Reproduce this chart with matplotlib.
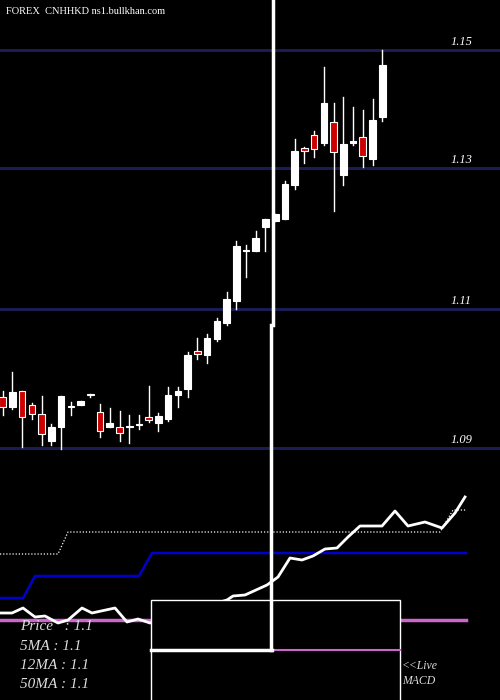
import matplotlib
matplotlib.use("Agg")
import matplotlib.pyplot as plt
from matplotlib.lines import Line2D
from matplotlib.patches import Rectangle

opens  = [1.0979,1.0965,1.0988,1.0967,1.0954,1.0914,1.0934,1.0966,1.0968,1.0984,1.0957,1.0934,1.0934,1.0934,1.0937,1.0950,1.0941,1.0947,1.0982,1.0991,
          1.1048,1.1043,1.1067,1.1091,1.1124,1.1198,1.1198,1.1235,1.1243,1.1247,1.1297,1.1353,1.1372,1.1360,1.1392,1.1312,1.1361,1.1369,1.1336,1.1399]
closes = [1.0964,1.0987,1.0950,1.0954,1.0924,1.0934,1.0981,1.0964,1.0974,1.0982,1.0928,1.0940,1.0925,1.0936,1.0939,1.0945,1.0951,1.0983,1.0989,1.1043,
          1.1044,1.1068,1.1094,1.1127,1.1206,1.1200,1.1218,1.1247,1.1254,1.1299,1.1349,1.1348,1.1351,1.1421,1.1347,1.1359,1.1364,1.1341,1.1395,1.1478]
highs  = [1.0988,1.1017,1.0988,1.0971,1.0981,1.0939,1.0981,1.0972,1.0974,1.0984,1.0969,1.0963,1.0959,1.0953,1.0953,1.0996,1.0955,1.0995,1.0995,1.1047,
          1.1068,1.1074,1.1098,1.1137,1.1213,1.1208,1.1229,1.1247,1.1254,1.1304,1.1367,1.1355,1.1379,1.1475,1.1421,1.1430,1.1415,1.1410,1.1427,1.1500]
lows   = [1.0952,1.0961,1.0905,1.0946,1.0907,1.0907,1.0902,1.0952,1.0968,1.0979,1.0920,1.0934,1.0914,1.0911,1.0931,1.0942,1.0929,1.0943,1.0964,1.0979,
          1.1036,1.1031,1.1063,1.1087,1.1111,1.1160,1.1198,1.1199,1.1243,1.1247,1.1292,1.1331,1.1339,1.1358,1.1258,1.1297,1.1357,1.1324,1.1328,1.1393]
price_levels = [1.1500, 1.1323, 1.1111, 1.0903]
level_labels = ["1.15", "1.13", "1.11", "1.09"]

# indicator panel (pixel-like units)
dotted_x = [0, 58, 68, 440, 453, 466]
dotted_y = [554, 554, 532, 532, 510, 510]
blue_x = [0, 23, 35, 139, 152, 466]
blue_y = [598, 598, 576, 576, 553, 553]
macd_x = [0,12,23,35,45,58,68,82,92,115,127,138,150,227,233,245,267,278,290,302,313,325,337,348,360,382,395,408,425,442,455,465]
macd_y = [613,613,608,617,616,623,620,608,613,608,622,619,623,600,596,595,585,577,558,560,556,549,548,537,526,526,511,526,522,528,513,497]
info_texts = ["Price   : 1.1", "5MA : 1.1", "12MA : 1.1", "50MA : 1.1"]

fig = plt.figure(figsize=(5, 7), dpi=100, facecolor="black")
ax = fig.add_axes([0, 240/700, 1, 460/700])
ax.set_facecolor("black")
ax.set_xlim(-0.28, 51.1)
ax.set_ylim(1.15 - 410/6667, 1.15 + 50/6667)
ax.axis("off")
for lv, lb in zip(price_levels, level_labels):
    ax.axhline(lv, color="#1c1c55", lw=2.2, zorder=1)
    ax.text(448/9.73, lv + 0.0012, lb, color="white", fontsize=9, family="Liberation Serif",
            style="italic", ha="left", va="center")
w = 0.68
for i, (o, c, h, l) in enumerate(zip(opens, closes, highs, lows)):
    ax.plot([i, i], [l, h], color="white", lw=1, zorder=2)
    col = "white" if c >= o else "#cc0000"
    bot, hgt = min(o, c), max(abs(c - o), 0.00012)
    ax.add_patch(Rectangle((i - w/2, bot), w, hgt, facecolor=col, edgecolor="white", lw=0.8, zorder=3))
fig.text(6/500, 1 - 12/700, "FOREX  CNHHKD ns1.bullkhan.com", color="white", fontsize=7.5,
         family="Liberation Serif", va="center")

bx = fig.add_axes([0, 0, 1, 240/700])
bx.set_facecolor("black")
bx.set_xlim(0, 500)
bx.set_ylim(700, 460)
bx.axis("off")
bx.plot(dotted_x, dotted_y, color="white", lw=0.9, ls=(0, (1, 1.5)))
bx.plot(blue_x, blue_y, color="#0000cc", lw=1.8)
bx.plot([0, 466], [620, 620], color="#cc66cc", lw=2.5)
bx.plot(macd_x, macd_y, color="white", lw=2)
bx.add_patch(Rectangle((151, 600), 249, 110, facecolor="black", edgecolor="white", lw=1, zorder=5))
bx.plot([272, 400], [650, 650], color="#cc66cc", lw=1.5, zorder=6)
bx.plot([151, 272], [650, 650], color="white", lw=2.5, zorder=6)
for k, t in enumerate(info_texts):
    bx.text(20, 627 + k*19.3, t, color="#dddddd", fontsize=11, family="Liberation Serif",
            style="italic", va="center", zorder=7)
bx.text(402, 666, "<<Live", color="#dddddd", fontsize=8.5, family="Liberation Serif", style="italic", va="center")
bx.text(402, 681, "MACD", color="#dddddd", fontsize=8.5, family="Liberation Serif", style="italic", va="center")

fig.add_artist(Line2D([273/500, 273/500], [1, 1 - 325/700], color="white", lw=2.5, zorder=10))
fig.add_artist(Line2D([271/500, 271/500], [1 - 325/700, 1 - 650/700], color="white", lw=2.5, zorder=10))

fig.savefig("out.png", dpi=100, facecolor="black")
